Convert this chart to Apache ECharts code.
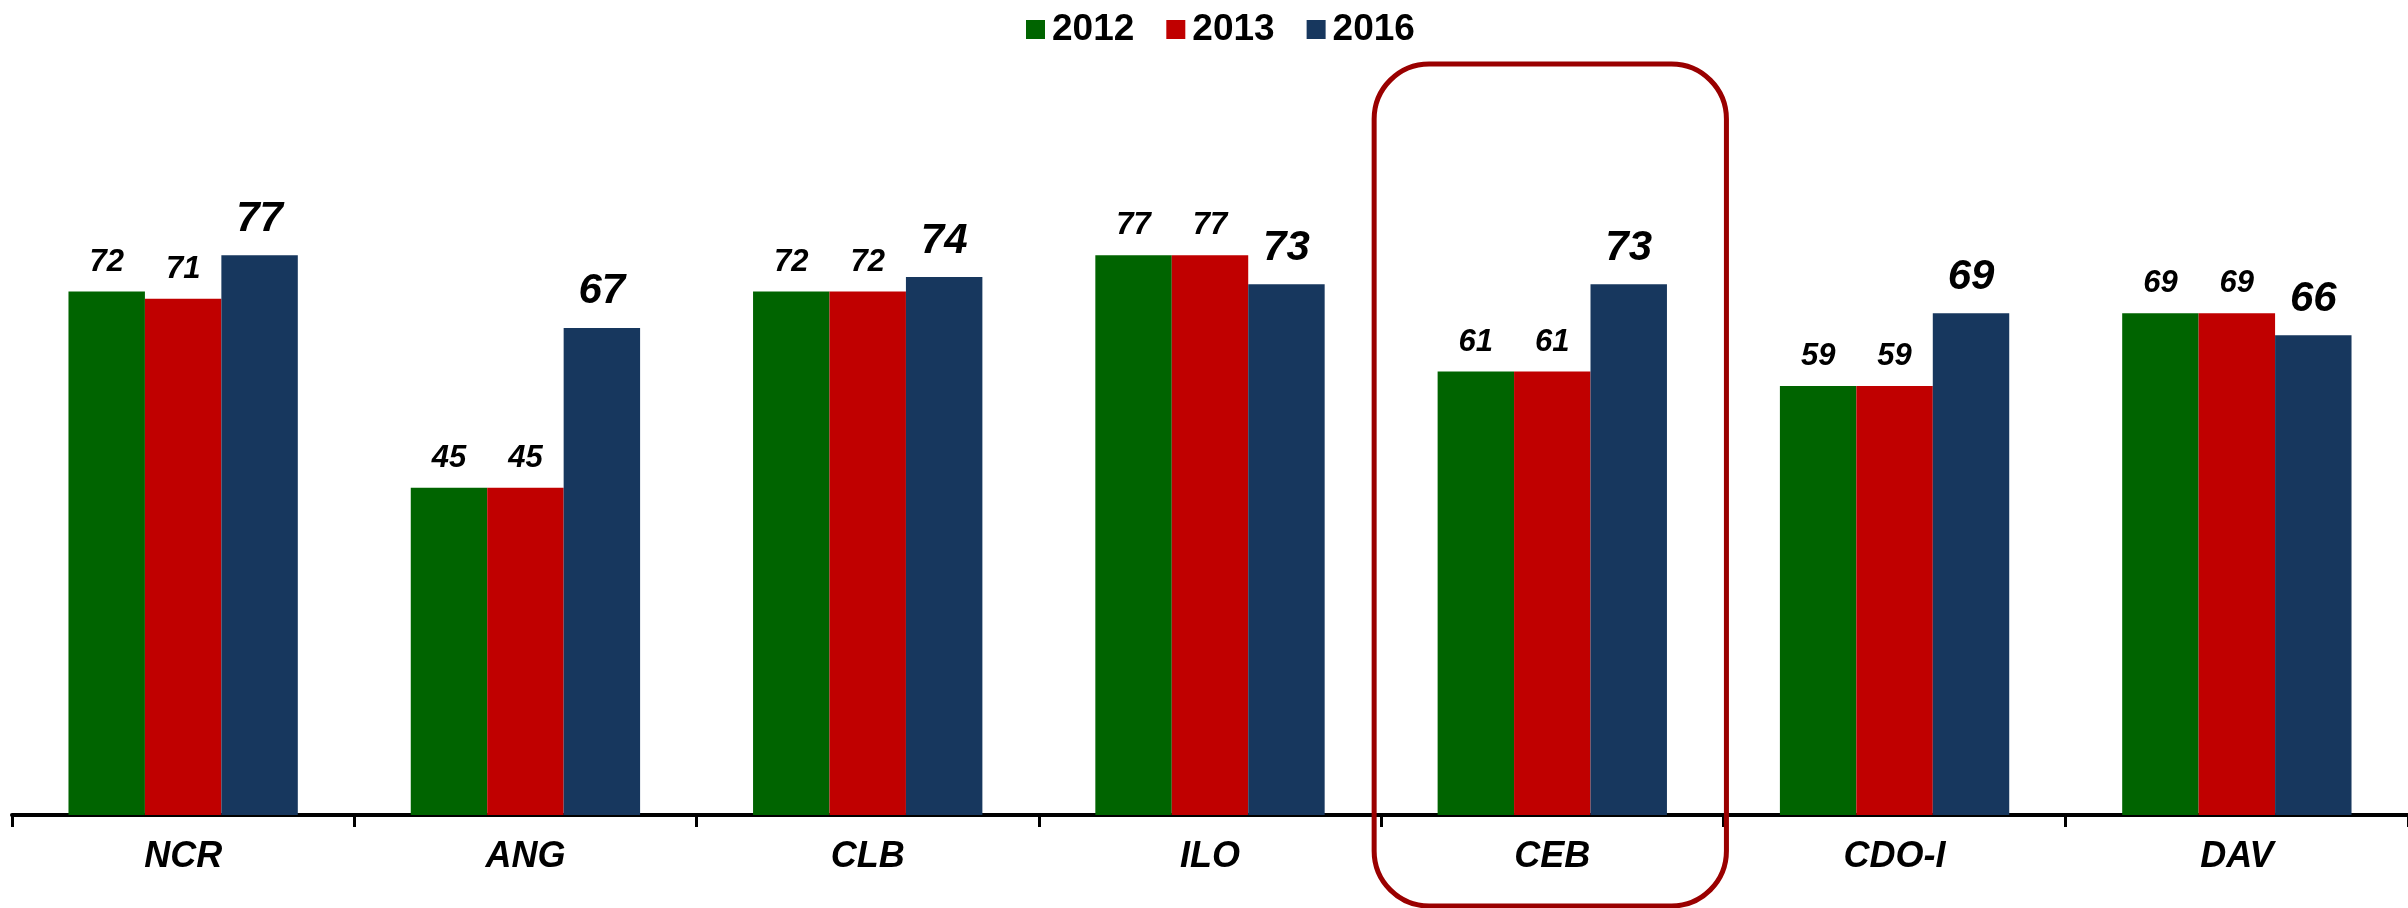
<!DOCTYPE html>
<html>
<head>
<meta charset="utf-8">
<title>Regions 2012 / 2013 / 2016</title>
<script src="https://cdn.jsdelivr.net/npm/echarts@6/dist/echarts.min.js"></script>
<style>
  html, body { margin: 0; padding: 0; background: #fff; }
  #chart { width: 2408px; height: 908px; }
</style>
</head>
<body>
<div id="chart"></div>
<script>
// data
const regions = ['NCR', 'ANG', 'CLB', 'ILO', 'CEB', 'CDO-I', 'DAV'];
const years = ['2012', '2013', '2016'];
const values2012 = [72, 45, 72, 77, 61, 59, 69];
const values2013 = [71, 45, 72, 77, 61, 59, 69];
const values2016 = [77, 67, 74, 73, 73, 69, 66];
const highlighted = 'CEB';

const colors = ['#006400', '#C00000', '#17375E'];
const font = 'Liberation Sans, Arial, sans-serif';

const chart = echarts.init(document.getElementById('chart'));

function makeSeries(name, data, color, big) {
  return {
    name: name,
    type: 'bar',
    data: data,
    barGap: '0%',
    barCategoryGap: '33%',
    itemStyle: { color: color },
    label: {
      show: true,
      position: 'top',
      distance: big ? 15 : 14,
      color: '#000',
      fontFamily: font,
      fontWeight: 'bold',
      fontStyle: 'italic',
      fontSize: big ? 42 : 31
    },
    animation: false
  };
}

const options = {
  textStyle: { fontFamily: font },
  legend: {
    data: years,
    left: 1026,
    top: 11,
    padding: 0,
    itemWidth: 19,
    itemHeight: 19,
    itemGap: 32,
    icon: 'rect',
    textStyle: {
      fontFamily: font,
      fontSize: 37,
      fontWeight: 'bold',
      color: '#000',
      padding: [0, 0, 0, 2]
    }
  },
  grid: {
    left: 12,
    right: 0,
    top: 88,
    bottom: 93,
    containLabel: false
  },
  xAxis: {
    type: 'category',
    data: regions,
    axisLine: { lineStyle: { color: '#000', width: 4 } },
    axisTick: { show: true, length: 12, lineStyle: { color: '#000', width: 3 } },
    axisLabel: {
      margin: 24,
      color: '#000',
      fontFamily: font,
      fontSize: 36,
      fontWeight: 'bold',
      fontStyle: 'italic'
    }
  },
  yAxis: {
    type: 'value',
    min: 0,
    max: 100,
    show: false,
    splitLine: { show: false }
  },
  series: [
    makeSeries(years[0], values2012, colors[0], false),
    makeSeries(years[1], values2013, colors[1], false),
    makeSeries(years[2], values2016, colors[2], true)
  ]
};

chart.setOption(options);

// rounded box around the highlighted region, placed from the axis scale
const idx = regions.indexOf(highlighted);
const x0 = chart.convertToPixel({ xAxisIndex: 0 }, regions[idx]);
const band = (2408 - 12 - 0) / regions.length;
const boxLeft = x0 - band / 2 - 7;
const boxRight = x0 + band / 2 + 3;
chart.setOption({
  graphic: [{
    type: 'rect',
    shape: { x: boxLeft, y: 64, width: boxRight - boxLeft, height: 842, r: 55 },
    style: { fill: 'none', stroke: '#9A0000', lineWidth: 5 },
    z: 10,
    silent: true
  }]
});
</script>
</body>
</html>
